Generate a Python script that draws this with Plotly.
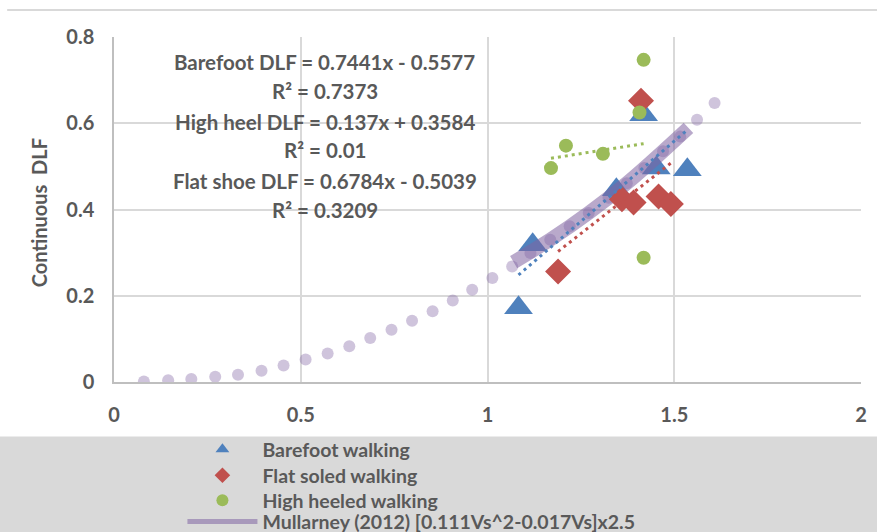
import plotly.graph_objects as go

# ---------------- data ----------------
bare_x = [1.083, 1.121, 1.345, 1.418, 1.452, 1.535]
bare_y = [0.172, 0.318, 0.446, 0.620, 0.496, 0.492]

flat_x = [1.189, 1.411, 1.360, 1.391, 1.458, 1.491]
flat_y = [0.256, 0.652, 0.424, 0.416, 0.430, 0.413]

high_x = [1.418, 1.407, 1.210, 1.170, 1.309, 1.418]
high_y = [0.747, 0.625, 0.548, 0.496, 0.529, 0.288]

mull_x = [0.080, 0.145, 0.207, 0.271, 0.332, 0.395, 0.454, 0.513, 0.572, 0.630,
          0.686, 0.743, 0.798, 0.853, 0.907, 0.959, 1.013, 1.066, 1.115, 1.168,
          1.220, 1.271, 1.324, 1.373, 1.420, 1.470, 1.516, 1.561, 1.608]
mull_y = [0.001, 0.004, 0.007, 0.012, 0.017, 0.026, 0.038, 0.052, 0.066, 0.083,
          0.102, 0.121, 0.142, 0.164, 0.189, 0.214, 0.241, 0.268, 0.299, 0.330,
          0.361, 0.392, 0.427, 0.461, 0.496, 0.535, 0.569, 0.608, 0.647]

band_x = [1.070, 1.168, 1.271, 1.373, 1.470, 1.538]
band_y = [0.278, 0.330, 0.392, 0.461, 0.535, 0.589]

# trendline equations shown on the chart
trend_slope = [0.7441, 0.6784, 0.137]
trend_icpt = [-0.5577, -0.5039, 0.3584]

eq_lines = ["Barefoot DLF = 0.7441x - 0.5577", "R² = 0.7373",
            "High heel DLF = 0.137x + 0.3584", "R² = 0.01",
            "Flat shoe DLF = 0.6784x - 0.5039", "R² = 0.3209"]
eq_y = [0.741, 0.675, 0.604, 0.538, 0.465, 0.399]

x_ticks = [0, 0.5, 1, 1.5, 2]
y_ticks = [0, 0.2, 0.4, 0.6, 0.8]

legend_names = ["Barefoot walking", "Flat soled walking", "High heeled walking",
                "Mullarney (2012) [0.111Vs^2-0.017Vs]x2.5"]

BLUE = "#4F81BD"
RED = "#C0504D"
GREEN = "#9BBB59"
PURPLE = "rgba(128,100,162,0.38)"
TXT = "#595959"
FONT = "Lato"

fig = go.Figure()

# Mullarney dotted curve (markers)
fig.add_trace(go.Scatter(x=mull_x, y=mull_y, mode="markers", showlegend=False,
                         marker=dict(size=12, color=PURPLE, line=dict(width=0)),
                         hoverinfo="skip"))

fig.add_trace(go.Scatter(x=bare_x, y=bare_y, mode="markers", name=legend_names[0],
                         legend="legend",
                         marker=dict(symbol="triangle-up", size=25, color=BLUE,
                                     line=dict(width=0))))

fig.add_trace(go.Scatter(x=band_x, y=band_y, mode="lines",
                         name=legend_names[3], legend="legend4",
                         line=dict(color="rgb(128,100,162)", width=14, shape="spline"),
                         opacity=0.55))

fig.add_trace(go.Scatter(x=flat_x, y=flat_y, mode="markers", name=legend_names[1],
                         legend="legend2",
                         marker=dict(symbol="diamond", size=20, color=RED,
                                     line=dict(width=0))))

fig.add_trace(go.Scatter(x=high_x, y=high_y, mode="markers", name=legend_names[2],
                         legend="legend3",
                         marker=dict(symbol="circle", size=14, color=GREEN,
                                     line=dict(width=0))))

# trendlines
series_x = [bare_x, flat_x, high_x]
colors = [BLUE, RED, GREEN]
for sx, m, b, c in zip(series_x, trend_slope, trend_icpt, colors):
    xs = [min(sx), max(sx)]
    fig.add_trace(go.Scatter(x=xs, y=[m * v + b for v in xs], mode="lines",
                             showlegend=False, hoverinfo="skip",
                             line=dict(color=c, width=3, dash="3px,4px")))

for t, yy in zip(eq_lines, eq_y):
    fig.add_annotation(x=0.5646, y=yy, xref="x", yref="y", text=t, showarrow=False,
                       xanchor="center", yanchor="middle",
                       font=dict(family=FONT, size=20.5, color=TXT, weight="bold"))

# y axis title
fig.add_annotation(x=-0.1, y=0.49, xref="paper", yref="paper", text="Continuous  DLF",
                   textangle=-90, showarrow=False, xanchor="center", yanchor="middle",
                   font=dict(family=FONT, size=20, color=TXT, weight="bold"))

# grey legend band and top rule
fig.add_shape(type="rect", xref="paper", yref="paper", x0=-0.16, x1=1.03, y0=-0.44, y1=-0.158,
              fillcolor="#D9D9D9", line=dict(width=0), layer="below")
fig.add_shape(type="line", xref="paper", yref="paper", x0=-0.143, x1=1.03, y0=1.078, y1=1.078,
              line=dict(color="#D9D9D9", width=2), layer="below")

axis_common = dict(showgrid=True, gridcolor="#D9D9D9", gridwidth=1.5, zeroline=False,
                   showline=True, linecolor="#BFBFBF", linewidth=1.5,
                   tickfont=dict(family=FONT, size=20, color=TXT, weight="bold"),
                   ticks="outside", tickcolor="rgba(0,0,0,0)")

fig.update_xaxes(range=[0, 2], tickvals=x_ticks, ticktext=[f"{v:g}" for v in x_ticks],
                 ticklen=14, **axis_common)
fig.update_yaxes(range=[0, 0.8], tickvals=y_ticks, ticktext=[f"{v:g}" for v in y_ticks],
                 ticklen=14, **axis_common)

legend_rows = [-0.196, -0.2714, -0.3438, -0.405]
leg_common = dict(x=0.0916, xanchor="left", yanchor="middle", bgcolor="rgba(0,0,0,0)",
                  font=dict(family=FONT, size=19.5, color=TXT, weight="bold"),
                  itemwidth=70, itemsizing="constant")

fig.update_layout(
    width=877, height=532,
    margin=dict(l=113.5, r=16, t=37, b=149.7, autoexpand=False),
    paper_bgcolor="white", plot_bgcolor="white",
    showlegend=True,
    legend=dict(y=legend_rows[0], **leg_common),
    legend2=dict(y=legend_rows[1], **leg_common),
    legend3=dict(y=legend_rows[2], **leg_common),
    legend4=dict(y=legend_rows[3], **leg_common),
)

fig.write_html("out.html", config={"displayModeBar": False},
               post_script="document.body.style.margin='0';")
